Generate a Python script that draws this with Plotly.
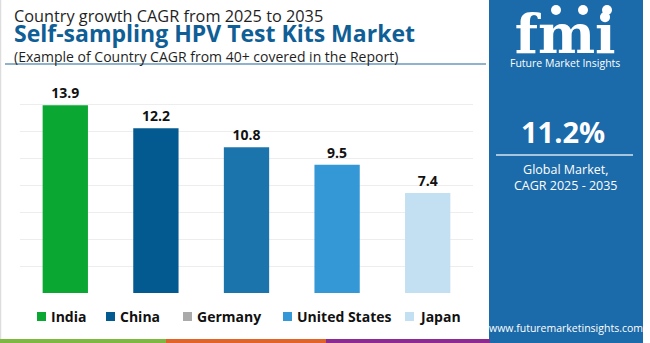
import plotly.graph_objects as go

# Country CAGR values (%), 2025-2035
countries = ["India", "China", "Germany", "United States", "Japan"]
cagr = [13.9, 12.2, 10.8, 9.5, 7.4]
bar_colors = ["#0aa832", "#035a91", "#1b74ac", "#3497d6", "#c2e0f1"]
legend_colors = ["#0aa832", "#035a91", "#aaaaaa", "#3497d6", "#c2e0f1"]
global_cagr = "11.2%"

W, H = 650, 343
PL, PR, PT, PB = 20, 473, 77, 293  # plot area in pixels

FONT = "Open Sans"


def px(x):
    return (x - PL) / (PR - PL)


def py(y):
    return (PB - y) / (PB - PT)


fig = go.Figure()
fig.add_trace(go.Bar(
    x=countries,
    y=cagr,
    marker=dict(color=bar_colors, line=dict(width=0)),
    text=[f"{v:.1f}" for v in cagr],
    textposition="outside",
    textfont=dict(family=FONT, size=14, color="#111111", weight="bold"),
    cliponaxis=False,
    width=0.5,
    showlegend=False,
    hoverinfo="skip",
))

shapes = []
annotations = []

# frame: left border line, underline under header, colored strip at bottom
shapes.append(dict(type="line", xref="paper", yref="paper",
                   x0=px(0.5), x1=px(0.5), y0=py(0), y1=py(343),
                   line=dict(color="#dddddd", width=1.5)))
shapes.append(dict(type="line", xref="paper", yref="paper",
                   x0=px(5), x1=px(486), y0=py(64), y1=py(64),
                   line=dict(color="#6a98bd", width=1.3)))
for x0, x1, c in [(0, 166, "#7fb743"), (166, 326, "#e0632a"), (326, 490, "#8b2b8f")]:
    shapes.append(dict(type="rect", xref="paper", yref="paper",
                       x0=px(x0), x1=px(x1), y0=py(339), y1=py(343),
                       fillcolor=c, line=dict(width=0)))

# right-hand panel
shapes.append(dict(type="rect", xref="paper", yref="paper",
                   x0=px(489), x1=px(643), y0=py(0), y1=py(343),
                   fillcolor="#1b6aa9", line=dict(width=0), layer="below"))
shapes.append(dict(type="line", xref="paper", yref="paper",
                   x0=px(496), x1=px(633), y0=py(155), y1=py(155),
                   line=dict(color="#d6e6f3", width=1.5)))
# globe dots above the logo letters
for cx in [556, 583, 607]:
    shapes.append(dict(type="circle", xref="paper", yref="paper",
                       x0=px(cx - 5), x1=px(cx + 5), y0=py(5), y1=py(15),
                       fillcolor="white", line=dict(width=0)))

# header: three lines in one text block
header = (
    "<span style='font-size:16.3px'>Country growth CAGR from 2025 to 2035</span><br>"
    "<span style='font-size:23px;color:#0f5e96'><b>Self-sampling HPV Test Kits Market</b></span><br>"
    "<span style='font-size:14px'>(Example of Country CAGR from 40+ covered in the Report)</span>"
)
annotations.append(dict(text=header, x=px(12), y=py(2.5), xanchor="left", yanchor="top",
                        align="left",
                        font=dict(family=FONT, size=15.5, color="#1f1f1f")))

# legend built from the category list
legend_x = [37, 106, 183, 283, 405]
for name, col, lx in zip(countries, legend_colors, legend_x):
    shapes.append(dict(type="rect", xref="paper", yref="paper",
                       x0=px(lx), x1=px(lx + 9), y0=py(312), y1=py(321),
                       fillcolor=col, line=dict(width=0)))
    annotations.append(dict(text=f"<b>{name}</b>", x=px(lx + 12), y=py(316),
                            xanchor="left", yanchor="middle",
                            font=dict(family=FONT, size=14, color="#111111")))

# panel text
cx = 566
logo = ("<span style='font-size:54px;font-family:DejaVu Serif'><b>fmi</b></span><br>"
        "Future Market Insights")
annotations.append(dict(text=logo, x=px(cx - 1), y=py(0), xanchor="center", yanchor="top",
                        font=dict(family=FONT, size=10.5, color="white")))
annotations.append(dict(text=f"<b>{global_cagr}</b>", x=px(cx - 3), y=py(131),
                        xanchor="center", yanchor="middle",
                        font=dict(family=FONT, size=29, color="white")))
annotations.append(dict(text="Global Market,<br>CAGR 2025 - 2035", x=px(cx), y=py(177),
                        xanchor="center", yanchor="middle",
                        font=dict(family=FONT, size=12.5, color="white")))
annotations.append(dict(text="www.futuremarketinsights.com", x=px(cx), y=py(328),
                        xanchor="center", yanchor="middle",
                        font=dict(family=FONT, size=10.5, color="white")))

for a in annotations:
    a.update(xref="paper", yref="paper", showarrow=False)

fig.update_layout(
    width=W, height=H,
    margin=dict(l=PL, r=W - PR, t=PT, b=H - PB),
    paper_bgcolor="white", plot_bgcolor="white",
    bargap=0.5,
    xaxis=dict(visible=False, range=[-0.5, 4.5]),
    yaxis=dict(range=[0, 16], dtick=2, showgrid=True, gridcolor="#ededed",
               gridwidth=1, zeroline=False, showticklabels=False, showline=False),
    shapes=shapes,
    annotations=annotations,
    showlegend=False,
)

fig.write_html("out.html")
